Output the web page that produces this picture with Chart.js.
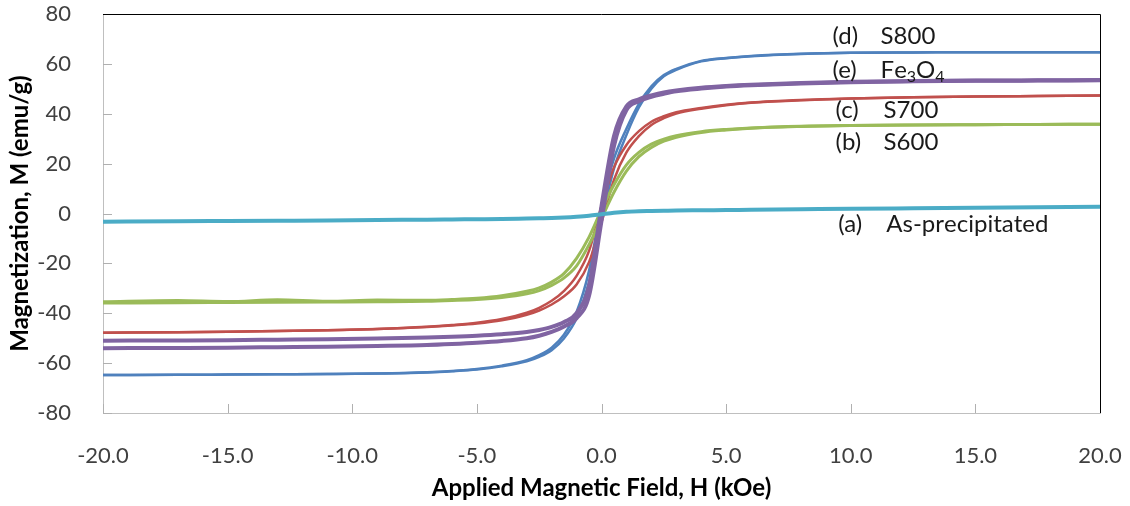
<!DOCTYPE html>
<html>
<head>
<meta charset="utf-8">
<script src="https://cdn.jsdelivr.net/npm/chart.js@4.4.1/dist/chart.umd.min.js"></script>
<style>
  html, body { margin: 0; padding: 0; background: #fff; }
  #wrap { width: 1130px; height: 506px; }
</style>
</head>
<body>
<div id="wrap"><canvas id="mhLoops"></canvas></div>
<script>
// Campo aplicado H (kOe), grade comum a todos os ramos
const fieldH = [-20, -17, -15, -13, -11, -9, -7, -6, -5, -4, -3, -2.5, -2, -1.5, -1, -0.5,
                0, 0.5, 1, 1.5, 2, 2.5, 3, 4, 5, 6, 8, 10, 12.5, 15, 17.5, 20];

// (d) S800 - ramo superior e inferior (emu/g)
const s800Upper = [-64.8, -64.7, -64.6, -64.5, -64.4, -64.2, -63.7, -63.2, -62.4, -61.0, -58.8, -56.8, -53.8, -48.5, -39.5, -23.0,
                   3.0, 22.0, 34.0, 44.0, 51.0, 55.5, 58.0, 61.2, 62.4, 63.2, 64.1, 64.5, 64.6, 64.7, 64.7, 64.7];
const s800Lower = [-64.8, -64.7, -64.6, -64.5, -64.4, -64.2, -63.8, -63.3, -62.6, -61.3, -59.3, -57.5, -54.8, -50.0, -42.0, -27.5,
                   -3.0, 18.0, 31.5, 42.5, 50.0, 55.0, 57.6, 61.0, 62.3, 63.1, 64.0, 64.5, 64.6, 64.7, 64.7, 64.7];

// (e) Fe3O4
const fe3o4Upper = [-51.0, -50.9, -50.8, -50.6, -50.4, -50.1, -49.7, -49.4, -49.0, -48.4, -47.5, -46.7, -45.5, -43.5, -40.0, -29.0,
                    3.0, 31.0, 43.0, 45.8, 47.3, 48.5, 49.3, 50.4, 51.1, 51.6, 52.3, 52.8, 53.1, 53.3, 53.4, 53.5];
const fe3o4Lower = [-54.0, -53.9, -53.8, -53.6, -53.4, -53.1, -52.7, -52.3, -51.8, -51.1, -50.0, -49.0, -47.5, -45.3, -42.0, -33.0,
                    -3.0, 27.0, 41.5, 45.0, 46.8, 48.0, 49.0, 50.1, 50.9, 51.4, 52.1, 52.6, 53.0, 53.2, 53.3, 53.4];

// (c) S700
const s700Upper = [-47.8, -47.6, -47.4, -47.1, -46.8, -46.3, -45.4, -44.7, -43.8, -42.3, -39.8, -37.8, -35.0, -31.0, -25.0, -15.0,
                   3.0, 18.5, 27.5, 33.0, 36.8, 39.0, 40.6, 42.3, 43.6, 44.5, 45.5, 46.1, 46.6, 46.9, 47.1, 47.3];
const s700Lower = [-47.8, -47.6, -47.4, -47.1, -46.8, -46.3, -45.5, -44.9, -44.1, -42.8, -40.6, -38.9, -36.5, -33.2, -28.5, -19.5,
                   -3.5, 13.5, 24.5, 31.0, 35.5, 38.2, 40.1, 42.0, 43.4, 44.4, 45.4, 46.1, 46.6, 46.9, 47.1, 47.3];

// (b) S600 (ramo superior com o ruido visto em campo negativo)
const s600Upper = [-35.4, -34.9, -35.3, -34.6, -35.2, -34.7, -34.8, -34.5, -34.0, -33.0, -31.2, -29.8, -27.5, -24.0, -18.0, -9.5,
                   1.5, 11.5, 19.5, 24.5, 27.8, 29.8, 31.2, 32.8, 33.7, 34.3, 35.0, 35.3, 35.5, 35.6, 35.7, 35.8];
const s600Lower = [-35.9, -35.8, -35.7, -35.6, -35.5, -35.4, -35.2, -34.9, -34.5, -33.7, -32.2, -30.9, -28.8, -25.8, -21.0, -12.5,
                   -2.0, 8.5, 17.0, 22.8, 26.5, 29.0, 30.6, 32.5, 33.5, 34.2, 34.9, 35.3, 35.5, 35.6, 35.7, 35.8];

// (a) As-precipitated
const asPrecip = [-3.3, -3.1, -3.0, -2.9, -2.8, -2.6, -2.5, -2.4, -2.3, -2.2, -2.0, -1.9, -1.8, -1.6, -1.3, -0.9,
                  -0.3, 0.3, 0.7, 0.9, 1.0, 1.1, 1.2, 1.3, 1.4, 1.5, 1.7, 1.9, 2.1, 2.3, 2.5, 2.7];

// Rotulos das curvas
const noteTags  = ['(d)', '(e)', '(c)', '(b)', '(a)'];
const noteNames = ['S800', 'Fe_3O_4', 'S700', 'S600', 'As-precipitated'];
const noteH     = [9.27, 9.27, 9.39, 9.39, 9.5];
const noteM     = [71.2, 57.5, 41.5, 28.7, -4.2];

const FONT = 'Lato, "Open Sans", sans-serif';

function branch(label, values, color, width, order) {
    return {
        label: label,
        data: fieldH.map((h, i) => ({ x: h, y: values[i] })),
        borderColor: color,
        borderWidth: width,
        pointRadius: 0,
        showLine: true,
        fill: false,
        cubicInterpolationMode: 'monotone',
        order: order
    };
}

// Ticks internos e moldura preta em cima/direita
const moldura = {
    id: 'moldura',
    afterDraw(chart) {
        const { ctx, chartArea: a, scales: { x, y } } = chart;
        ctx.save();
        ctx.strokeStyle = '#b0b0b0';
        ctx.lineWidth = 1;
        ctx.beginPath();
        x.ticks.forEach(t => {
            const px = Math.round(x.getPixelForValue(t.value)) + 0.5;
            ctx.moveTo(px, a.bottom);
            ctx.lineTo(px, a.bottom - 9);
        });
        y.ticks.forEach(t => {
            const py = Math.round(y.getPixelForValue(t.value)) + 0.5;
            ctx.moveTo(a.left, py);
            ctx.lineTo(a.left + 9, py);
        });
        ctx.stroke();
        ctx.strokeStyle = '#000';
        ctx.beginPath();
        ctx.moveTo(a.left, a.top + 0.5);
        ctx.lineTo(a.right + 0.5, a.top + 0.5);
        ctx.lineTo(a.right + 0.5, a.bottom);
        ctx.stroke();
        ctx.restore();
    }
};

// Texto com subscritos marcados por "_"
function drawRich(ctx, text, x, y, size) {
    let cx = x;
    for (let i = 0; i < text.length; i++) {
        if (text[i] === '_' && i + 1 < text.length) {
            ctx.font = `${Math.round(size * 0.65)}px ${FONT}`;
            ctx.fillText(text[i + 1], cx, y + size * 0.28);
            cx += ctx.measureText(text[i + 1]).width;
            i++;
        } else {
            ctx.font = `${size}px ${FONT}`;
            ctx.fillText(text[i], cx, y);
            cx += ctx.measureText(text[i]).width;
        }
    }
}

const rotulos = {
    id: 'rotulos',
    afterDraw(chart) {
        const { ctx, scales: { x, y } } = chart;
        ctx.save();
        ctx.fillStyle = '#1a1a1a';
        ctx.textBaseline = 'middle';
        ctx.textAlign = 'left';
        noteTags.forEach((tag, i) => {
            const px = x.getPixelForValue(noteH[i]);
            const py = y.getPixelForValue(noteM[i]);
            ctx.font = `24px ${FONT}`;
            ctx.fillText(tag, px, py);
            drawRich(ctx, noteNames[i], px + 48, py, 24);
        });
        ctx.restore();
    }
};

const datasets = [
    branch('(a) As-precipitated', asPrecip, '#4BACC6', 4, 0),
    branch('(e) Fe3O4', fe3o4Upper, '#8064A2', 4, 1),
    branch('(e) Fe3O4', fe3o4Lower, '#8064A2', 4, 1),
    branch('(b) S600', s600Upper, '#9BBB59', 3, 2),
    branch('(b) S600', s600Lower, '#9BBB59', 3, 2),
    branch('(c) S700', s700Upper, '#C0504D', 2.5, 3),
    branch('(c) S700', s700Lower, '#C0504D', 2.5, 3),
    branch('(d) S800', s800Upper, '#4F81BD', 2.5, 4),
    branch('(d) S800', s800Lower, '#4F81BD', 2.5, 4)
];

new Chart(document.getElementById('mhLoops'), {
    type: 'scatter',
    data: { datasets: datasets },
    options: {
        responsive: true,
        maintainAspectRatio: false,
        animation: false,
        layout: { padding: { left: 0, top: 14, right: 30, bottom: 0 } },
        plugins: {
            legend: { display: false },
            tooltip: { enabled: false }
        },
        scales: {
            x: {
                type: 'linear',
                min: -20,
                max: 20,
                grid: { display: false },
                border: { display: true, color: '#bfbfbf', width: 1 },
                ticks: {
                    stepSize: 5,
                    padding: 22,
                    color: '#404040',
                    font: { family: FONT, size: 22 },
                    callback: v => v.toFixed(1)
                },
                title: {
                    display: true,
                    text: 'Applied Magnetic Field, H (kOe)',
                    color: '#000',
                    font: { family: FONT, size: 24, weight: 'bold' },
                    padding: { top: 0, bottom: 3 }
                },
                afterFit: s => {
                    s.height = 93;
                    s.paddingLeft = 0;
                    s.paddingRight = 0;
                }
            },
            y: {
                type: 'linear',
                min: -80,
                max: 80,
                grid: { display: false },
                border: { display: true, color: '#bfbfbf', width: 1 },
                ticks: {
                    stepSize: 20,
                    padding: 24,
                    color: '#404040',
                    font: { family: FONT, size: 22 }
                },
                title: {
                    display: true,
                    text: 'Magnetization, M (emu/g)',
                    color: '#000',
                    font: { family: FONT, size: 24, weight: 'bold' },
                    padding: { top: 6, bottom: 0 }
                },
                afterFit: s => {
                    s.width = 103;
                    s.paddingTop = 0;
                    s.paddingBottom = 0;
                }
            }
        }
    },
    plugins: [moldura, rotulos]
});
</script>
</body>
</html>
